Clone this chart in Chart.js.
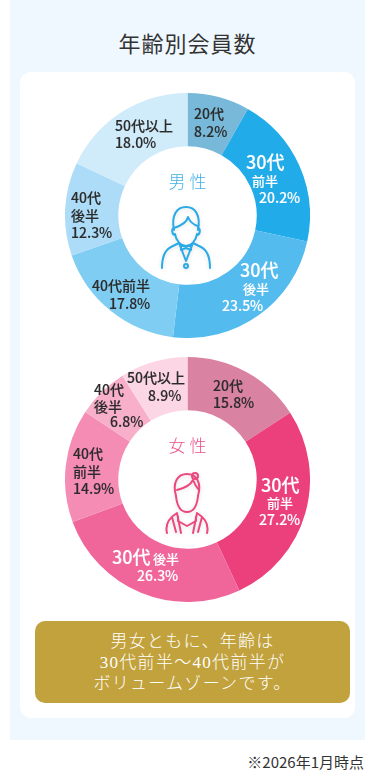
<!DOCTYPE html>
<html lang="ja">
<head>
<meta charset="utf-8">
<title>年齢別会員数</title>
<script src="https://cdn.jsdelivr.net/npm/chart.js@4"></script>
<style>
	html, body { margin: 0; padding: 0; background: #fff; }
	body { position: relative; width: 375px; height: 771px; overflow: hidden; font-family: "Noto Sans CJK JP", sans-serif; }
	.panel { position: absolute; left: 10px; top: 0; width: 355px; height: 740px; background: #eff8ff; }
	.title { position: absolute; left: 10px; top: 25px; width: 355px; text-align: center; font-size: 22px; line-height: 34px; font-weight: 400; letter-spacing: 1px; color: #333; }
	.card { position: absolute; left: 20px; top: 72px; width: 335px; height: 646px; background: #fff; border-radius: 11px; }
	.ring { position: absolute; left: 65px; width: 245px; height: 245px; }
	.icon { position: absolute; left: 145px; width: 85px; height: 110px; filter: drop-shadow(0 1px 2px rgba(0,0,0,.12)); }
	.icon * { fill: none; stroke-width: 2; stroke-linecap: round; stroke-linejoin: round; }
	.note { position: absolute; left: 35px; top: 621px; width: 315px; height: 82px; background: #c2a23c; border-radius: 10px; box-sizing: border-box; padding-top: 10px; text-align: center; color: #fff; font-family: "Liberation Serif", "Noto Sans CJK JP", serif; font-size: 17px; line-height: 21px; font-weight: 300; letter-spacing: 1.3px; }
	.date { position: absolute; right: 11px; top: 752px; font-size: 15px; line-height: 20px; color: #333; }
</style>
</head>
<body>
<div class="panel"></div>
<div class="title">年齢別会員数</div>
<div class="card"></div>

<canvas id="male-chart" class="ring" style="top:93px" width="245" height="245"></canvas>
<canvas id="female-chart" class="ring" style="top:357px" width="245" height="245"></canvas>

<svg class="icon" style="top:165px" viewBox="0 0 85 110" stroke="#2aaae6">
	<path d="M29 65C26 50 32 42 41 42C50 42 56 50 53 65" />
	<path d="M29 63C35 61 42 57 43 52C45 57 49 60 53 61" />
	<path d="M29 63C26 63 27 70 30 70M53 63C56 63 55 70 52 70" />
	<path d="M30 69C31 76 36 81 41 81C46 81 51 76 52 69" />
	<path d="M17 103C17 91 20 85 26 82L34 78M48 78L56 82C62 85 65 91 65 103" />
	<path d="M34 78L41 96L48 78" />
	<path d="M36 80L41 82L46 80L46 85L41 83L36 85Z" />
	<circle cx="41" cy="101" r="2" />
</svg>
<svg class="icon" style="top:430px" viewBox="0 0 85 110" stroke="#ec4880">
	<path d="M31 66C27 52 33 44 42 44C51 44 57 52 53 66" />
	<path d="M32 60C40 58 46 54 48 50C50 55 52 58 54 60" />
	<circle cx="50" cy="46" r="3" />
	<path d="M31 66C32 76 36 82 42 82C48 82 52 76 53 66" />
	<path d="M22 103C20 95 24 88 32 83L36 103M27 87L31 102" />
	<path d="M62 103C64 95 60 88 52 83L48 103M57 87L53 102" />
	<path d="M33 87L33 91L42 96L51 91L51 87" />
</svg>

<div class="note">男女ともに、年齢は<br>30代前半～40代前半が<br>ボリュームゾーンです。</div>
<div class="date">※2026年1月時点</div>

<script>
const ageGroups = ['20代', '30代前半', '30代後半', '40代前半', '40代後半', '50代以上'];
const maleValues = [8.2, 20.2, 23.5, 17.8, 12.3, 18.0];
const femaleValues = [15.8, 27.2, 26.3, 14.9, 6.8, 8.9];
const maleColors = ['#78b9da', '#22abe9', '#53bbed', '#80cdf3', '#acdcf7', '#d0ecfa'];
const femaleColors = ['#da82a1', '#ec407d', '#f0669a', '#f58cb4', '#f8b0ca', '#fcd6e4'];

const dark = '#2b2b2b';
const white = '#ffffff';

// label pieces per slice: [text, x, y, size], '%' marks the value line (page coordinates)
const maleLabelParts = [
	{ color: dark, parts: [['20代', 194, 114, 14], ['%', 194, 132, 14]] },
	{ color: white, parts: [['30代', 246, 162, 18], ['前半', 252, 181, 13], ['%', 259, 198, 14]] },
	{ color: white, parts: [['30代', 240, 270, 18], ['後半', 243, 289, 13], ['%', 222, 306, 14]] },
	{ color: dark, parts: [['40代前半', 92, 286, 14], ['%', 109, 304, 14]] },
	{ color: dark, parts: [['40代', 71, 198, 14], ['後半', 71, 216, 14], ['%', 71, 233, 14]] },
	{ color: dark, parts: [['50代以上', 115, 126, 14], ['%', 115, 143, 14]] },
];
const femaleLabelParts = [
	{ color: dark, parts: [['20代', 213, 386, 14], ['%', 213, 403, 14]] },
	{ color: white, parts: [['30代', 261, 485, 18], ['前半', 267, 503, 13], ['%', 259, 520, 14]] },
	{ color: white, parts: [['30代', 112, 557, 18], ['後半', 153, 559, 13], ['%', 137, 576, 14]] },
	{ color: dark, parts: [['40代', 73, 454, 14], ['前半', 73, 472, 14], ['%', 73, 489, 14]] },
	{ color: dark, parts: [['40代', 94, 390, 14], ['後半', 94, 407, 14], ['%', 110, 422, 14]] },
	{ color: dark, parts: [['50代以上', 127, 378, 14], ['%', 148, 396, 14]] },
];

const sliceLabels = {
	id: 'sliceLabels',
	afterDatasetsDraw(chart, args, opts) {
		const { ctx } = chart;
		const values = chart.data.datasets[0].data;
		ctx.save();
		ctx.textBaseline = 'middle';
		ctx.textAlign = 'left';
		ctx.lineWidth = 0.12;
		opts.items.forEach((item, i) => {
			ctx.fillStyle = item.color;
			ctx.strokeStyle = item.color;
			item.parts.forEach(([text, x, y, size]) => {
				ctx.font = `500 ${size}px "Noto Sans CJK JP"`;
				const str = text === '%' ? values[i].toFixed(1) + '%' : text;
				ctx.fillText(str, x - opts.left, y - opts.top);
				ctx.strokeText(str, x - opts.left, y - opts.top); // fake medium weight
			});
		});
		ctx.font = '300 17px "Noto Sans CJK JP"';
		ctx.textAlign = 'center';
		ctx.fillStyle = opts.centerColor;
		ctx.fillText(opts.centerText, 122.5, opts.centerY - opts.top);
		ctx.restore();
	},
};

function drawRing(id, values, colors, labelOpts) {
	return new Chart(document.getElementById(id), {
		type: 'doughnut',
		data: {
			labels: ageGroups,
			datasets: [{ data: values, backgroundColor: colors, borderWidth: 0 }],
		},
		options: {
			responsive: false,
			animation: false,
			cutout: '56.5%',
			layout: { padding: 0 },
			plugins: {
				legend: { display: false },
				tooltip: { enabled: false },
				sliceLabels: labelOpts,
			},
		},
		plugins: [sliceLabels],
	});
}

document.fonts.load('500 14px "Noto Sans CJK JP"').finally(() => {
	drawRing('male-chart', maleValues, maleColors, {
		items: maleLabelParts, left: 65, top: 93, centerText: '男 性', centerColor: '#3fb0e8', centerY: 182,
	});
	drawRing('female-chart', femaleValues, femaleColors, {
		items: femaleLabelParts, left: 65, top: 357, centerText: '女 性', centerColor: '#ec4f88', centerY: 446,
	});
});
</script>
</body>
</html>
